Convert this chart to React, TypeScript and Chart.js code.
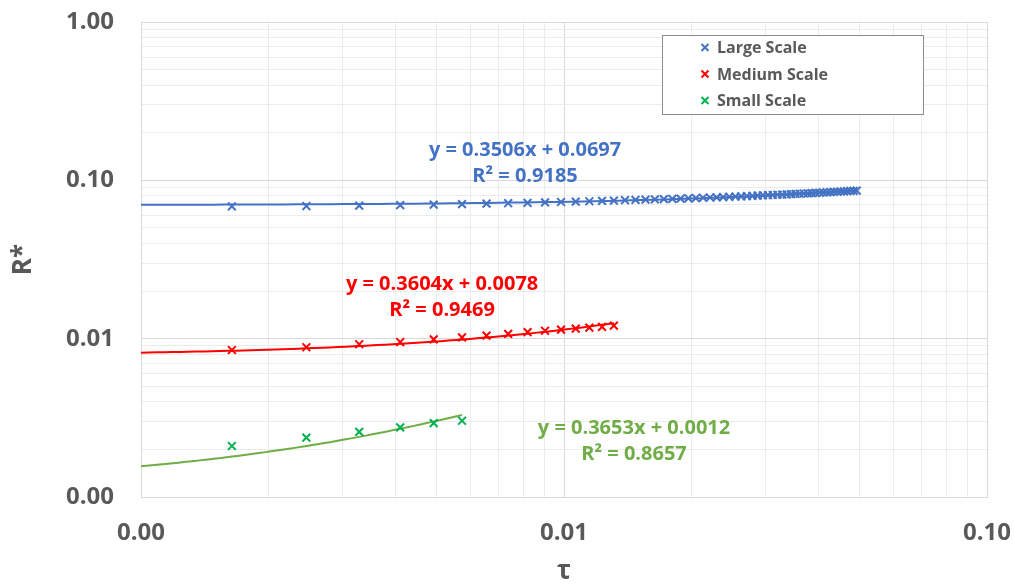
import React, { useEffect, useRef } from "react";
import { Chart, registerables } from "chart.js";

Chart.register(...registerables);

// Dimensionless time τ at each sample
const tau = [
  0.00164, 0.00246, 0.00328, 0.0041, 0.00492, 0.00574, 0.00656, 0.00738, 0.0082, 0.00902,
  0.00984, 0.01066, 0.01148, 0.0123, 0.01312, 0.01394, 0.01476, 0.01558, 0.0164, 0.01722,
  0.01804, 0.01886, 0.01968, 0.0205, 0.02132, 0.02214, 0.02296, 0.02378, 0.0246, 0.02542,
  0.02624, 0.02706, 0.02788, 0.0287, 0.02952, 0.03034, 0.03116, 0.03198, 0.0328, 0.03362,
  0.03444, 0.03526, 0.03608, 0.0369, 0.03772, 0.03854, 0.03936, 0.04018, 0.041, 0.04182,
  0.04264, 0.04346, 0.04428, 0.0451, 0.04592, 0.04674, 0.04756, 0.04838, 0.0492,
];

// R* for each scale
const largeScale = [
  0.0685, 0.0688, 0.0692, 0.0697, 0.0702, 0.0707, 0.0712, 0.0717, 0.0721, 0.0726,
  0.073, 0.0734, 0.0738, 0.0742, 0.0745, 0.0749, 0.0752, 0.0755, 0.0758, 0.0761,
  0.0764, 0.0767, 0.077, 0.0773, 0.0776, 0.0779, 0.0781, 0.0784, 0.0787, 0.079,
  0.0792, 0.0795, 0.0798, 0.08, 0.0803, 0.0806, 0.0808, 0.0811, 0.0813, 0.0816,
  0.0818, 0.0821, 0.0823, 0.0826, 0.0828, 0.0831, 0.0833, 0.0835, 0.0838, 0.084,
  0.0843, 0.0845, 0.0847, 0.085, 0.0852, 0.0854, 0.0857, 0.0859, 0.0861,
];
const mediumScale = [
  0.00848, 0.00883, 0.00922, 0.00952, 0.0099, 0.01019, 0.01045, 0.01072, 0.011, 0.01122,
  0.0114, 0.01158, 0.01174, 0.01188, 0.0121,
];
const smallScale = [0.0021, 0.00237, 0.00258, 0.00275, 0.00293, 0.00303];

const seriesNames = ["Large Scale", "Medium Scale", "Small Scale"];
const seriesValues = [largeScale, mediumScale, smallScale];
const markerColors = ["#4472C4", "#FF0000", "#00B050"];
const trendColors = ["#4472C4", "#FF0000", "#70AD47"];

// Linear trendlines y = a·x + b
const slopes = [0.3506, 0.3604, 0.3653];
const intercepts = [0.0697, 0.0078, 0.0012];
const rSquared = [0.9185, 0.9469, 0.8657];

// Axis decades and minor-grid multipliers
const xDecades = [0.001, 0.01, 0.1];
const yDecades = [0.001, 0.01, 0.1, 1];
const minorSteps = [1, 2, 3, 4, 5, 6, 7, 8, 9];

// Where each trendline equation is written (data coordinates of the first line)
const equationAnchors = [
  { x: 0.00809, y: 0.1548 },
  { x: 0.00515, y: 0.02197 },
  { x: 0.01464, y: 0.002734 },
];

const FONT = "'Open Sans', 'Noto Sans', sans-serif";
const TEXT_GREY = "#595959";

const isDecade = (v: number) => Math.abs(Math.log10(v) - Math.round(Math.log10(v))) < 1e-9;

const buildTicks = (decades: number[]) => {
  const out: number[] = [];
  for (let i = 0; i < decades.length - 1; i++) {
    for (const s of minorSteps) out.push(+(decades[i] * s).toPrecision(6));
  }
  out.push(decades[decades.length - 1]);
  return out;
};

const trendSamples = (i: number) => {
  const x0 = xDecades[0];
  const x1 = tau[seriesValues[i].length - 1];
  const n = 60;
  const pts: { x: number; y: number }[] = [];
  for (let k = 0; k <= n; k++) {
    const x = x0 * Math.pow(x1 / x0, k / n);
    pts.push({ x, y: slopes[i] * x + intercepts[i] });
  }
  return pts;
};

const boxLegend = {
  id: "boxLegend",
  afterDraw(chart: any) {
    const { ctx, chartArea } = chart;
    const w = 261;
    const h = 79;
    const left = chartArea.right - 64 - w;
    const top = chartArea.top + 13;
    ctx.save();
    ctx.fillStyle = "#ffffff";
    ctx.fillRect(left, top, w, h);
    ctx.strokeStyle = "#8c8c8c";
    ctx.lineWidth = 1;
    ctx.strokeRect(left + 0.5, top + 0.5, w, h);
    ctx.font = `bold 16px ${FONT}`;
    ctx.textBaseline = "middle";
    ctx.textAlign = "left";
    seriesNames.forEach((name, i) => {
      const cy = top + 12.5 + i * 26.5;
      const mx = left + 43;
      const r = 3.5;
      ctx.strokeStyle = markerColors[i];
      ctx.lineWidth = 2;
      ctx.beginPath();
      ctx.moveTo(mx - r, cy - r);
      ctx.lineTo(mx + r, cy + r);
      ctx.moveTo(mx + r, cy - r);
      ctx.lineTo(mx - r, cy + r);
      ctx.stroke();
      ctx.fillStyle = TEXT_GREY;
      ctx.fillText(name, left + 55, cy + 1);
    });
    ctx.restore();
  },
};

const equationLabels = {
  id: "equationLabels",
  afterDatasetsDraw(chart: any) {
    const { ctx, scales } = chart;
    ctx.save();
    ctx.font = `bold 20px ${FONT}`;
    ctx.textAlign = "center";
    ctx.textBaseline = "middle";
    equationAnchors.forEach((a, i) => {
      const px = scales.x.getPixelForValue(a.x);
      const py = scales.y.getPixelForValue(a.y);
      ctx.fillStyle = trendColors[i];
      ctx.fillText(`y = ${slopes[i].toFixed(4)}x + ${intercepts[i].toFixed(4)}`, px, py);
      ctx.fillText(`R² = ${rSquared[i].toFixed(4)}`, px, py + 26);
    });
    ctx.restore();
  },
};

export default function App() {
  const ref = useRef<HTMLCanvasElement>(null);

  useEffect(() => {
    const canvas = ref.current;
    if (!canvas) return;

    const xTicks = buildTicks(xDecades);
    const yTicks = buildTicks(yDecades);

    const markerSets = seriesValues.map((vals, i) => ({
      label: seriesNames[i],
      data: vals.map((v, k) => ({ x: tau[k], y: v })),
      showLine: false,
      pointStyle: "crossRot" as const,
      pointRadius: 5.5,
      pointBorderWidth: 2,
      borderColor: markerColors[i],
      backgroundColor: markerColors[i],
      order: 1,
    }));

    const trendSets = seriesValues.map((_, i) => ({
      label: `${seriesNames[i]} trend`,
      data: trendSamples(i),
      showLine: true,
      pointRadius: 0,
      borderWidth: 2,
      borderColor: trendColors[i],
      backgroundColor: trendColors[i],
      tension: 0,
      order: 2,
    }));

    const gridColor = (ctx: any) =>
      ctx.tick && isDecade(ctx.tick.value) ? "#d9d9d9" : "#ececec";

    const chart = new Chart(canvas, {
      type: "scatter",
      data: { datasets: [...trendSets, ...markerSets] as any },
      options: {
        responsive: false,
        animation: false,
        devicePixelRatio: 1,
        events: [],
        layout: { padding: { top: 22, right: 27, left: 0, bottom: 0 } },
        plugins: {
          legend: { display: false },
          tooltip: { enabled: false },
        },
        scales: {
          x: {
            type: "logarithmic",
            min: 0.001,
            max: 0.1,
            afterBuildTicks: (scale: any) => {
              scale.ticks = xTicks.map((v) => ({ value: v, major: isDecade(v) }));
            },
            afterFit: (scale: any) => {
              scale.height = 89;
              scale.paddingLeft = 0;
              scale.paddingRight = 0;
            },
            grid: { color: gridColor, drawTicks: false, lineWidth: 1 },
            border: { color: "#d9d9d9" },
            ticks: {
              autoSkip: false,
              maxRotation: 0,
              padding: 22,
              color: TEXT_GREY,
              font: { family: FONT, size: 24, weight: "bold" },
              callback: (v: any) => (isDecade(Number(v)) ? Number(v).toFixed(2) : ""),
            },
            title: {
              display: true,
              text: "τ",
              color: TEXT_GREY,
              font: { family: FONT, size: 26, weight: "bold", lineHeight: 1 },
              padding: { top: 0, bottom: 1 },
            },
          },
          y: {
            type: "logarithmic",
            min: 0.001,
            max: 1,
            afterBuildTicks: (scale: any) => {
              scale.ticks = yTicks.map((v) => ({ value: v, major: isDecade(v) }));
            },
            afterFit: (scale: any) => {
              scale.width = 141;
              scale.paddingTop = 0;
              scale.paddingBottom = 0;
            },
            grid: { color: gridColor, drawTicks: false, lineWidth: 1 },
            border: { color: "#d9d9d9" },
            ticks: {
              autoSkip: false,
              padding: 27,
              color: TEXT_GREY,
              font: { family: FONT, size: 24, weight: "bold" },
              callback: (v: any) => (isDecade(Number(v)) ? Number(v).toFixed(2) : ""),
            },
            title: {
              display: true,
              text: "R*",
              color: TEXT_GREY,
              font: { family: FONT, size: 26, weight: "bold", lineHeight: 1 },
              padding: { top: 11, bottom: 0 },
            },
          },
        },
      },
      plugins: [equationLabels, boxLegend],
    });

    return () => chart.destroy();
  }, []);

  return (
    <div style={{ position: "absolute", left: 0, top: 0, width: 1014, height: 586, background: "#fff" }}>
      <canvas ref={ref} width={1014} height={586} style={{ display: "block" }} />
    </div>
  );
}
